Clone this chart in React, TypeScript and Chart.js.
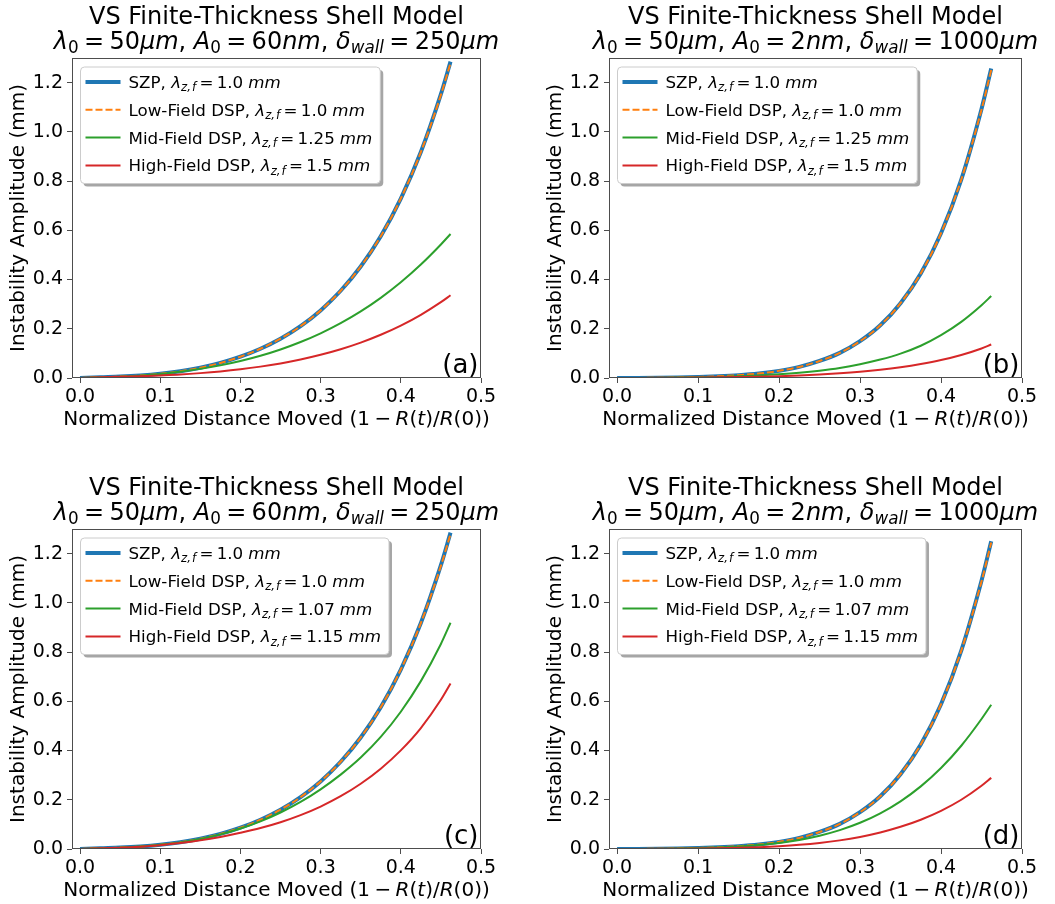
import React, { useEffect, useRef } from 'react';
import { Chart, registerables } from 'chart.js';

Chart.register(...registerables);

// ---------------- data ----------------
const X_VALUES = [0, 0.025, 0.05, 0.075, 0.1, 0.125, 0.15, 0.175, 0.2, 0.225, 0.25, 0.275, 0.3, 0.325, 0.35, 0.375, 0.4, 0.425, 0.45, 0.462];
const X_TICKS = [0, 0.1, 0.2, 0.3, 0.4, 0.5];
const Y_TICKS = [0, 0.2, 0.4, 0.6, 0.8, 1.0, 1.2];

// panel (a): A0 = 60 nm, wall = 250 um, lambda = 1.0 / 1.0 / 1.25 / 1.5
const A_SZP = [0.0001, 0.0031, 0.0056, 0.0100, 0.0170, 0.0273, 0.0417, 0.0612, 0.0866, 0.1189, 0.1597, 0.2107, 0.2746, 0.3545, 0.453, 0.576, 0.729, 0.918, 1.153, 1.285];
const A_LOW = [0.0001, 0.0031, 0.0056, 0.0100, 0.0170, 0.0273, 0.0417, 0.0612, 0.0866, 0.1189, 0.1597, 0.2107, 0.2746, 0.3545, 0.453, 0.576, 0.729, 0.918, 1.150, 1.280];
const A_MID = [0.0001, 0.0030, 0.0054, 0.0095, 0.0160, 0.0258, 0.0371, 0.0513, 0.0688, 0.0902, 0.1158, 0.1461, 0.1815, 0.2228, 0.2707, 0.3257, 0.389, 0.461, 0.5424, 0.585];
const A_HIGH = [0.0001, 0.0028, 0.0046, 0.0072, 0.0105, 0.0143, 0.0198, 0.0267, 0.0354, 0.0462, 0.0593, 0.0752, 0.0942, 0.1168, 0.1438, 0.1756, 0.2128, 0.2567, 0.308, 0.336];

// panel (b): A0 = 2 nm, wall = 1000 um, lambda = 1.0 / 1.0 / 1.25 / 1.5
const B_SZP = [0.000002, 0.0003, 0.0010, 0.0022, 0.0043, 0.0071, 0.0114, 0.0183, 0.029, 0.045, 0.0692, 0.102, 0.1495, 0.214, 0.304, 0.425, 0.588, 0.806, 1.093, 1.257];
const B_LOW = [0.000002, 0.0003, 0.0010, 0.0022, 0.0043, 0.0071, 0.0114, 0.0183, 0.029, 0.045, 0.0692, 0.102, 0.1495, 0.214, 0.304, 0.425, 0.588, 0.806, 1.090, 1.252];
const B_MID = [0.000002, 0.0003, 0.0009, 0.0017, 0.0029, 0.0045, 0.0068, 0.0101, 0.0148, 0.0212, 0.0298, 0.041, 0.056, 0.0748, 0.099, 0.131, 0.174, 0.2279, 0.2955, 0.333];
const B_HIGH = [0.000002, 0.0003, 0.0007, 0.0012, 0.0019, 0.0027, 0.0039, 0.0054, 0.0075, 0.0103, 0.0140, 0.0189, 0.0252, 0.0334, 0.0437, 0.0567, 0.0728, 0.0935, 0.120, 0.136];

// panel (c): A0 = 60 nm, wall = 250 um, lambda = 1.0 / 1.0 / 1.07 / 1.15
const C_SZP = [0.0001, 0.0031, 0.0056, 0.0100, 0.0170, 0.0273, 0.0417, 0.0612, 0.0866, 0.1189, 0.1597, 0.2107, 0.2746, 0.3545, 0.453, 0.576, 0.729, 0.918, 1.153, 1.285];
const C_LOW = [0.0001, 0.0031, 0.0056, 0.0100, 0.0170, 0.0273, 0.0417, 0.0612, 0.0866, 0.1189, 0.1597, 0.2107, 0.2746, 0.3545, 0.453, 0.576, 0.729, 0.918, 1.150, 1.280];
const C_MID = [0.0001, 0.0031, 0.0055, 0.0098, 0.0168, 0.0269, 0.0409, 0.0594, 0.0832, 0.1125, 0.1482, 0.1912, 0.2423, 0.3021, 0.3716, 0.4554, 0.5577, 0.682, 0.833, 0.919];
const C_HIGH = [0.0001, 0.0030, 0.0053, 0.0093, 0.0155, 0.024, 0.035, 0.049, 0.066, 0.0852, 0.1089, 0.1377, 0.1725, 0.2144, 0.2652, 0.3264, 0.4007, 0.4914, 0.606, 0.672];

// panel (d): A0 = 2 nm, wall = 1000 um, lambda = 1.0 / 1.0 / 1.07 / 1.15
const D_SZP = [0.000002, 0.0003, 0.0010, 0.0022, 0.0043, 0.0071, 0.0114, 0.0183, 0.029, 0.045, 0.0692, 0.102, 0.1495, 0.214, 0.304, 0.425, 0.588, 0.806, 1.090, 1.250];
const D_LOW = [0.000002, 0.0003, 0.0010, 0.0022, 0.0043, 0.0071, 0.0114, 0.0183, 0.029, 0.045, 0.0692, 0.102, 0.1495, 0.214, 0.304, 0.425, 0.588, 0.806, 1.087, 1.245];
const D_MID = [0.000002, 0.0003, 0.0009, 0.0020, 0.0037, 0.0062, 0.0100, 0.0158, 0.0245, 0.0370, 0.0541, 0.0768, 0.1066, 0.145, 0.1938, 0.2545, 0.329, 0.4195, 0.528, 0.586];
const D_HIGH = [0.000002, 0.0003, 0.0007, 0.0012, 0.0019, 0.0031, 0.0049, 0.0075, 0.0114, 0.0169, 0.0245, 0.0350, 0.0490, 0.0671, 0.0901, 0.119, 0.155, 0.200, 0.2568, 0.289];

const SERIES_NAMES = ['SZP', 'Low-Field DSP', 'Mid-Field DSP', 'High-Field DSP'];
const LAMBDA_TOP = ['1.0', '1.0', '1.25', '1.5'];
const LAMBDA_BOTTOM = ['1.0', '1.0', '1.07', '1.15'];
const PANEL_TAGS = ['(a)', '(b)', '(c)', '(d)'];
const TITLE_LINE1 = 'VS Finite-Thickness Shell Model';
const LAMBDA0_VALUES = ['50', '50', '50', '50'];
const A0_VALUES = ['60', '2', '60', '2'];
const WALL_VALUES = ['250', '1000', '250', '1000'];
const X_LABEL_TEXT = 'Normalized Distance Moved ';
const Y_LABEL = 'Instability Amplitude (mm)';

// ---------------- styles / layout ----------------
const FONT = '"DejaVu Sans", sans-serif';
const SERIES_STYLES = [
  { color: '#1f77b4', width: 4, dash: [] as number[], order: 3 },
  { color: '#ff7f0e', width: 2, dash: [7, 3], order: 2 },
  { color: '#2ca02c', width: 2, dash: [] as number[], order: 1 },
  { color: '#d62728', width: 2, dash: [] as number[], order: 0 },
];

const PANELS = [
  { left: 0, top: 0, w: 527, h: 471, padR: 46, padB: 43, series: [A_SZP, A_LOW, A_MID, A_HIGH], lams: LAMBDA_TOP },
  { left: 537, top: 0, w: 518, h: 471, padR: 33, padB: 43, series: [B_SZP, B_LOW, B_MID, B_HIGH], lams: LAMBDA_TOP },
  { left: 0, top: 471, w: 527, h: 433, padR: 46, padB: 5, series: [C_SZP, C_LOW, C_MID, C_HIGH], lams: LAMBDA_BOTTOM },
  { left: 537, top: 471, w: 518, h: 433, padR: 33, padB: 5, series: [D_SZP, D_LOW, D_MID, D_HIGH], lams: LAMBDA_BOTTOM },
];

// ---------------- rich (math-like) text ----------------
type Run = { t: string; it?: boolean; sub?: boolean; gap?: number };
const R = (t: string): Run => ({ t });
const I = (t: string): Run => ({ t, it: true });
const Sub = (t: string, it = false): Run => ({ t, it, sub: true });
const Gap = (em: number): Run => ({ t: '', gap: em });

function fontFor(r: Run, size: number) {
  const s = r.sub ? size * 0.7 : size;
  return `${r.it ? 'italic ' : ''}${s}px ${FONT}`;
}
function runsWidth(ctx: CanvasRenderingContext2D, runs: Run[], size: number) {
  let w = 0;
  for (const r of runs) {
    if (r.gap) { w += r.gap * size; continue; }
    ctx.font = fontFor(r, size);
    w += ctx.measureText(r.t).width;
  }
  return w;
}
function drawRuns(ctx: CanvasRenderingContext2D, runs: Run[], x: number, y: number, size: number, align: 'left' | 'center' | 'right' = 'left') {
  const w = runsWidth(ctx, runs, size);
  let cx = align === 'center' ? x - w / 2 : align === 'right' ? x - w : x;
  ctx.textAlign = 'left';
  ctx.textBaseline = 'alphabetic';
  for (const r of runs) {
    if (r.gap) { cx += r.gap * size; continue; }
    ctx.font = fontFor(r, size);
    ctx.fillText(r.t, cx, y + (r.sub ? 0.2 * size : 0));
    cx += ctx.measureText(r.t).width;
  }
  return w;
}

const legendRuns = (name: string, lam: string): Run[] => [
  R(name + ', '), I('λ'), Sub('z,', true), Gap(0.06), Sub('f', true), Gap(0.2), R('='), Gap(0.2), R(lam), Gap(0.3), I('mm'),
];
const titleRuns = (i: number): Run[] => [
  I('λ'), Sub('0'), Gap(0.22), R('='), Gap(0.22), R(LAMBDA0_VALUES[i]), I('μm'), R(', '),
  I('A'), Sub('0'), Gap(0.22), R('='), Gap(0.22), R(A0_VALUES[i]), I('nm'), R(', '),
  I('δ'), Sub('wall', true), Gap(0.22), R('='), Gap(0.22), R(WALL_VALUES[i]), I('μm'),
];
const xLabelRuns = (): Run[] => [
  R(X_LABEL_TEXT), R('(1'), Gap(0.22), R('−'), Gap(0.22), I('R'), R('('), I('t'), R(')/'), I('R'), R('(0))'),
];

function roundRect(ctx: CanvasRenderingContext2D, x: number, y: number, w: number, h: number, r: number) {
  ctx.beginPath();
  ctx.moveTo(x + r, y);
  ctx.lineTo(x + w - r, y);
  ctx.quadraticCurveTo(x + w, y, x + w, y + r);
  ctx.lineTo(x + w, y + h - r);
  ctx.quadraticCurveTo(x + w, y + h, x + w - r, y + h);
  ctx.lineTo(x + r, y + h);
  ctx.quadraticCurveTo(x, y + h, x, y + h - r);
  ctx.lineTo(x, y + r);
  ctx.quadraticCurveTo(x, y, x + r, y);
  ctx.closePath();
}

function makeDecor(i: number) {
  const panel = PANELS[i];
  return {
    id: 'decor' + i,
    afterDatasetsDraw(chart: any) {
      const { ctx } = chart;
      const { left, right, top, bottom } = chart.chartArea;
      ctx.save();
      // frame
      ctx.strokeStyle = '#4d4d4d';
      ctx.lineWidth = 1;
      ctx.setLineDash([]);
      ctx.strokeRect(left + 0.5, top + 0.5, right - left - 1, bottom - top - 1);
      // panel tag
      ctx.fillStyle = '#000';
      drawRuns(ctx, [R(PANEL_TAGS[i])], right - 2.5, bottom - 5.5, 26, 'right');
      // legend
      const size = 16.7;
      const rows = SERIES_NAMES.map((n, k) => legendRuns(n, panel.lams[k]));
      const tw = Math.max(...rows.map((r) => runsWidth(ctx, r, size)));
      const bx = left + 8.5;
      const by = top + 9;
      const bw = 5 + 35 + 8 + tw + 8;
      const bh = 116.5;
      roundRect(ctx, bx + 3, by + 3, bw, bh, 4);
      ctx.fillStyle = 'rgba(77,77,77,0.5)';
      ctx.fill();
      roundRect(ctx, bx, by, bw, bh, 4);
      ctx.fillStyle = '#ffffff';
      ctx.fill();
      ctx.strokeStyle = '#cccccc';
      ctx.lineWidth = 1;
      ctx.stroke();
      rows.forEach((runs, k) => {
        const st = SERIES_STYLES[k];
        const cy = by + 15 + k * 27.8;
        ctx.beginPath();
        ctx.strokeStyle = st.color;
        ctx.lineWidth = st.width;
        ctx.lineCap = 'butt';
        ctx.setLineDash(st.dash);
        ctx.moveTo(bx + 5, cy);
        ctx.lineTo(bx + 40, cy);
        ctx.stroke();
        ctx.setLineDash([]);
        ctx.fillStyle = '#000';
        drawRuns(ctx, runs, bx + 48, cy + 6, size, 'left');
      });
      ctx.restore();
    },
    afterDraw(chart: any) {
      const { ctx } = chart;
      const { left, right, top, bottom } = chart.chartArea;
      const cx = (left + right) / 2;
      ctx.save();
      ctx.fillStyle = '#000';
      drawRuns(ctx, [R(TITLE_LINE1)], cx, 23.5, 24, 'center');
      drawRuns(ctx, titleRuns(i), cx, 48.5, 24, 'center');
      drawRuns(ctx, xLabelRuns(), cx, bottom + 47, 20, 'center');
      ctx.translate(18.5, (top + bottom) / 2);
      ctx.rotate(-Math.PI / 2);
      ctx.font = `20px ${FONT}`;
      ctx.textAlign = 'center';
      ctx.textBaseline = 'middle';
      ctx.fillText(Y_LABEL, 0, 0);
      ctx.restore();
    },
  };
}

function Panel({ index }: { index: number }) {
  const ref = useRef<HTMLCanvasElement>(null);
  const p = PANELS[index];
  useEffect(() => {
    const canvas = ref.current!;
    const datasets = p.series.map((vals, k) => {
      const st = SERIES_STYLES[k];
      return {
        label: `${SERIES_NAMES[k]}, λz,f = ${p.lams[k]} mm`,
        data: X_VALUES.map((x, j) => ({ x, y: vals[j] })),
        borderColor: st.color,
        backgroundColor: st.color,
        borderWidth: st.width,
        borderDash: st.dash,
        order: st.order,
        pointRadius: 0,
        fill: false,
        cubicInterpolationMode: 'monotone' as const,
      };
    });
    const tickFont = { family: FONT, size: 19 };
    const chart = new Chart(canvas, {
      type: 'line',
      data: { datasets },
      options: {
        animation: false,
        responsive: false,
        devicePixelRatio: 1,
        layout: { padding: { left: 0, top: 58, right: p.padR, bottom: p.padB } },
        plugins: {
          legend: { display: false },
          title: { display: false },
          tooltip: { enabled: false },
        },
        scales: {
          x: {
            type: 'linear',
            min: -0.01,
            max: 0.5,
            afterBuildTicks: (s: any) => { s.ticks = X_TICKS.map((v) => ({ value: v })); },
            afterFit: (s: any) => { s.height = 50; s.paddingLeft = 0; s.paddingRight = 0; s.paddingTop = 0; s.paddingBottom = 0; },
            ticks: { callback: (v: any) => Number(v).toFixed(1), font: tickFont, color: '#000', padding: 3, maxRotation: 0, autoSkip: false },
            grid: { drawOnChartArea: false, drawTicks: true, tickLength: 5, color: '#4d4d4d', lineWidth: 1 },
            border: { display: false },
          },
          y: {
            type: 'linear',
            min: 0,
            max: 1.3,
            afterBuildTicks: (s: any) => { s.ticks = Y_TICKS.map((v) => ({ value: v })); },
            afterFit: (s: any) => { s.width = 72; s.paddingLeft = 0; s.paddingRight = 0; s.paddingTop = 0; s.paddingBottom = 0; },
            ticks: { callback: (v: any) => Number(v).toFixed(1), font: tickFont, color: '#000', padding: 4, autoSkip: false },
            grid: { drawOnChartArea: false, drawTicks: true, tickLength: 5, color: '#4d4d4d', lineWidth: 1 },
            border: { display: false },
          },
        },
      },
      plugins: [makeDecor(index)],
    } as any);
    return () => chart.destroy();
  }, []);
  return (
    <canvas
      ref={ref}
      width={p.w}
      height={p.h}
      style={{ position: 'absolute', left: p.left, top: p.top, width: p.w, height: p.h }}
    />
  );
}

export default function App() {
  return (
    <div style={{ position: 'absolute', left: 0, top: 0, width: 1055, height: 904, background: '#fff' }}>
      {PANELS.map((_, i) => (
        <Panel key={i} index={i} />
      ))}
    </div>
  );
}
